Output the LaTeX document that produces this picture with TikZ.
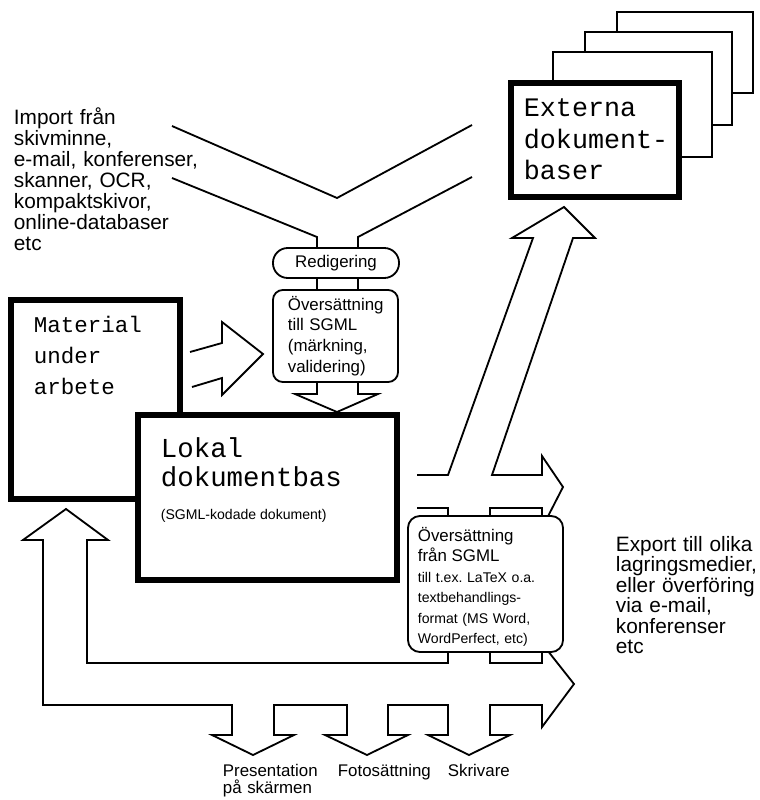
\documentclass[tikz,border=0pt]{standalone}
\usepackage{fontspec}
\setmainfont{Liberation Sans}
\setmonofont{Liberation Mono}
\frenchspacing

\begin{document}
\begin{tikzpicture}[x=0.025cm, y=-0.025cm, line width=1.3pt]
\tikzset{tjockruta/.style={draw, fill=white, line width=4.3pt, inner sep=0pt},
  tunnruta/.style={draw, fill=white, inner sep=0pt},
  rundruta/.style={draw, fill=white, rounded corners=7pt, inner sep=0pt},
  brodtext/.style={anchor=base west, align=left, inner sep=0pt, text width=5cm, font=\fontsize{14.8}{14.9}\selectfont},
  rutetext/.style={anchor=base west, align=left, inner sep=0pt, text width=3.5cm, font=\fontsize{12}{14.9}\selectfont},
  skrivmaskin/.style={anchor=base west, align=left, inner sep=0pt, text width=5cm, font=\ttfamily\fontsize{19}{22.3}\selectfont},
  etikett/.style={anchor=base west, align=left, inner sep=0pt, text width=2.6cm, font=\fontsize{12}{12.5}\selectfont}}
\useasboundingbox (0,0) rectangle (759,800);
\node[tunnruta, minimum width=3.4cm, minimum height=2.025cm] (bas4) at (685,52.5) {};
\node[tunnruta, minimum width=3.675cm, minimum height=2.325cm] (bas3) at (658.5,78.5) {};
\node[tunnruta, minimum width=3.975cm, minimum height=2.625cm] (bas2) at (632.5,104.5) {};
\node[tjockruta, minimum width=4.2cm, minimum height=2.85cm] (externa) at (595,140) {};
\node[skrivmaskin] (externatext) at (523,117) {Externa\\dokument-\\baser};
\node[brodtext] (import) at (13,125) {Import från\\skivminne,\\e-mail, konferenser,\\skanner, OCR,\\kompaktskivor,\\online-databaser\\etc};
\draw (172,126) -- (337,198) -- (472,125);
\draw (172,178) -- (317,237) -- (317,250);
\draw (472,177) -- (358,237) -- (358,250);
\draw (317,278) -- (317,290);
\draw (358,278) -- (358,290);
\draw (190,352) -- (222,343) -- (222,322) -- (263,354) -- (222,395) -- (222,378) -- (192,387);
\draw (317,382) -- (317,394) -- (295,394) -- (337,412) -- (378,394) -- (358,394) -- (358,382);
\draw (417,475) -- (448,475) -- (533,238) -- (512,238) -- (564,207) -- (595,238) -- (573,238) -- (492,475) -- (542,475) -- (542,456) -- (563,487) -- (542,528);
\draw (417,508) -- (448,508) -- (448,522);
\draw (490,522) -- (490,508) -- (542,508) -- (542,522);
\draw (540,641) -- (574,684) -- (542,727) -- (542,705) -- (490,705) -- (490,735) -- (510,735) -- (469,755) -- (428,735) -- (448,735) -- (448,705) -- (388,705) -- (388,735) -- (408,735) -- (367,755) -- (325,735) -- (347,735) -- (347,705) -- (274,705) -- (274,735) -- (294,735) -- (253,755) -- (212,735) -- (232,735) -- (232,705) -- (43,705) -- (43,540) -- (23,540) -- (66,509) -- (108,540) -- (87,540) -- (87,663) -- (448,663) -- (448,645);
\draw (490,645) -- (490,663) -- (542,663) -- (542,645);
\node[tjockruta, minimum width=4.225cm, minimum height=4.975cm] (material) at (95.5,399.5) {};
\node[skrivmaskin, font=\ttfamily\fontsize{16}{22.3}\selectfont] (materialtext) at (33,332) {Material\\under\\arbete};
\node[tjockruta, minimum width=6.475cm, minimum height=4.125cm] (lokal) at (267.5,497.5) {};
\node[skrivmaskin, font=\ttfamily\fontsize{19.5}{21.3}\selectfont] (lokaltext) at (160,457) {Lokal\\dokumentbas};
\node[anchor=base west, inner sep=0pt, font=\fontsize{10}{12}\selectfont] (sgmlkod) at (160,519) {(SGML-kodade dokument)};
\node[rundruta, rounded corners=10.5pt, minimum width=3.15cm, minimum height=0.75cm, font=\fontsize{12}{14}\selectfont] (redig) at (336,263) {Redigering};
\node[rundruta, minimum width=3.125cm, minimum height=2.3cm] (tillsgml) at (335.5,336) {};
\node[rutetext] (tillsgmltext) at (287,310) {Översättning\\till SGML\\(märkning,\\validering)};
\node[rundruta, rounded corners=8.5pt, minimum width=3.875cm, minimum height=3.4cm] (fransgml) at (485.5,584) {};
\node[rutetext, font=\fontsize{10}{14.6}\selectfont] (fransgmltext) at (417,541) {{\fontsize{12}{14.6}\selectfont Översättning\\från SGML}\\till t.ex. LaTeX o.a.\\textbehandlings-\\format (MS Word,\\WordPerfect, etc)};
\node[brodtext, font=\fontsize{14.8}{14.6}\selectfont] (export) at (615,551) {Export till olika\\lagringsmedier,\\eller överföring\\via e-mail,\\konferenser\\etc};
\node[etikett] (presentation) at (222,776) {Presentation\\på skärmen};
\node[etikett] (fotosattning) at (337,776) {Fotosättning};
\node[etikett] (skrivare) at (447,776) {Skrivare};
\end{tikzpicture}
\end{document}
